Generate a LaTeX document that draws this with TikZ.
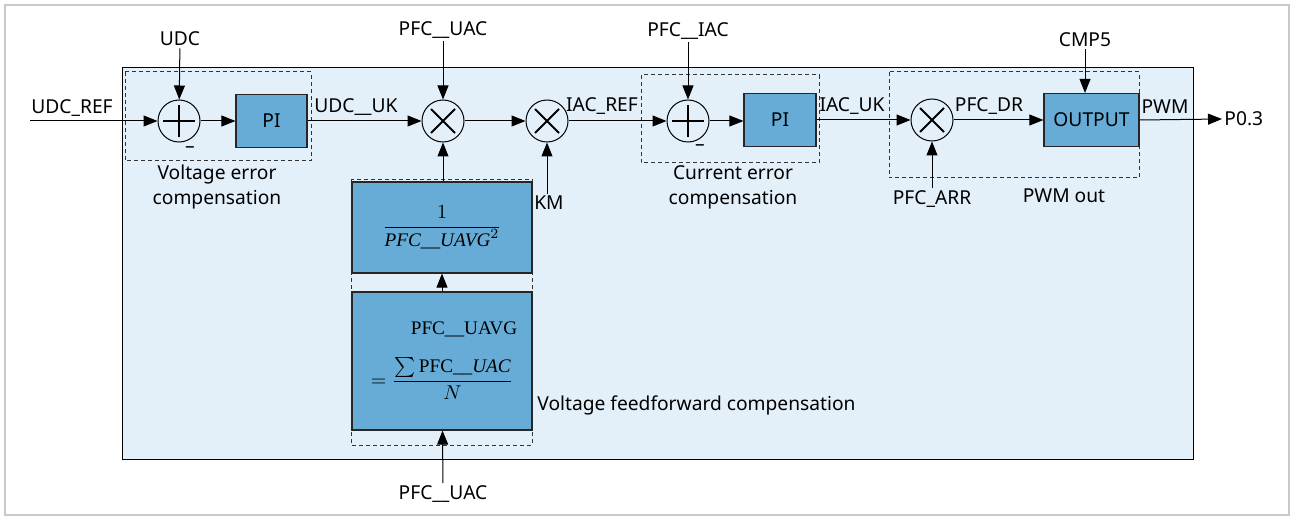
\documentclass[tikz,border=0pt]{standalone}
\usepackage{amsmath}
\usepackage{fontspec}
\setmainfont{Liberation Serif}
\setsansfont{Noto Sans}
\usetikzlibrary{arrows.meta,positioning}
\definecolor{framegray}{RGB}{200,200,200}
\definecolor{panelblue}{RGB}{228,240,249}
\definecolor{blockblue}{RGB}{102,172,214}

\begin{document}
\begin{tikzpicture}[x=0.5pt,y=-0.5pt,
font=\sffamily\fontsize{9.6}{12.5}\selectfont,
blk/.style={draw=black!85,line width=0.6pt,fill=blockblue,minimum width=#1,minimum height=26.5pt,inner sep=1pt},
sumnode/.style={circle,draw,line width=0.5pt,minimum size=21pt,inner sep=0pt,
  path picture={\draw[line width=1pt] ([xshift=-8pt]path picture bounding box.center)--([xshift=8pt]path picture bounding box.center)
  ([yshift=-8pt]path picture bounding box.center)--([yshift=8pt]path picture bounding box.center);}},
mulnode/.style={circle,draw,line width=0.5pt,minimum size=21pt,inner sep=0pt,
  path picture={\draw[line width=1pt] ([shift={(-6pt,-6pt)}]path picture bounding box.center)--([shift={(6pt,6pt)}]path picture bounding box.center)
  ([shift={(-6pt,6pt)}]path picture bounding box.center)--([shift={(6pt,-6pt)}]path picture bounding box.center);}},
sig/.style={-{Triangle[length=7pt,width=5.5pt]},line width=0.5pt},
grp/.style={draw=black!80,line width=0.5pt,dash pattern=on 2pt off 1.5pt},
lab/.style={inner sep=1pt},
captxt/.style={inner sep=1pt,align=center}]
\useasboundingbox (0,0) rectangle (1291,519);
\draw[framegray,line width=1pt] (5,5) rectangle (1289,515);
\draw[fill=panelblue,line width=0.5pt] (122,68) rectangle (1193,459);
% dashed groups
\draw[grp] (125,72) rectangle (311,161);
\draw[grp] (641,75) rectangle (819,163);
\draw[grp] (889,72) rectangle (1139,178);
\draw[grp] (351,180) rectangle (532,445);
% blocks
\node[sumnode] (sumv) at (179,121) {};
\node[blk=35.5pt] (piv) at (271.5,121) {PI};
\node[mulnode] (mula) at (443,121) {};
\node[mulnode] (mulb) at (547,121) {};
\node[sumnode] (sumi) at (688,121) {};
\node[blk=36pt] (pii) at (780,120) {PI};
\node[mulnode] (mulc) at (932,120) {};
\node[blk=47.5pt] (outbox) at (1091.5,120) {OUTPUT};
\node[blk=90pt,minimum height=45.5pt,font=\rmfamily\fontsize{9.6}{11}\selectfont] (invbox) at (442,227.5)
  {$\dfrac{1}{\textit{PFC\_\_UAVG}^{2}}$};
\node[blk=90pt,minimum height=69pt,font=\rmfamily\fontsize{9.6}{11}\selectfont,align=center] (avgbox) at (442,361)
  {\hspace*{22pt}PFC\_\_UAVG\\[9pt]$=\dfrac{\sum\textrm{PFC\_\_}\textit{UAC}}{N}$};
% inputs and outputs
\coordinate (udcrefin) at (30,121);
\node[lab] (udcref) at (72,108) {UDC\_REF};
\node[lab] (udc) at (180,39) {UDC};
\node[lab] (pfcuac) at (443,30) {PFC\_\_UAC};
\node[lab] (pfciac) at (688,31) {PFC\_\_IAC};
\node[lab] (cmp5) at (1085,40) {CMP5};
\node[lab] (km) at (549,203) {KM};
\node[lab] (pfcarr) at (932,199) {PFC\_ARR};
\node[lab] (pfcuacb) at (443,494) {PFC\_\_UAC};
\node[lab,anchor=west] (p03) at (1222,119) {P0.3};
% signal names
\node[lab] (udcuk) at (356,107) {UDC\_\_UK};
\node[lab] (iacref) at (602,106) {IAC\_REF};
\node[lab] (iacuk) at (852,106) {IAC\_UK};
\node[lab] (pfcdr) at (989,106) {PFC\_DR};
\node[lab] (pwm) at (1165,107) {PWM};
\node[lab] (minv) at (190,150) {\textendash};
\node[lab] (mini) at (700,148) {\textendash};
% captions
\node[captxt] (caperrv) at (217,187) {Voltage error\\compensation};
\node[captxt] (caperri) at (733,187) {Current error\\compensation};
\node[captxt] (cappwm) at (1064,196) {PWM out};
\node[captxt,anchor=west] (capff) at (535,405) {Voltage feedforward compensation};
% connectors
\draw[sig] (udcrefin) -- (sumv);
\draw[sig] (udc) -- (sumv);
\draw[sig] (sumv) -- (piv);
\draw[sig] (piv.east |- mula) -- (mula);
\draw[sig] (pfcuac) -- (mula);
\draw[sig] (mula) -- (mulb);
\draw[sig] (km.north -| mulb) -- (mulb);
\draw[sig] (invbox.north -| mula) -- (mula);
\draw[sig] (avgbox) -- (invbox);
\draw[sig] (pfcuacb) -- (avgbox);
\draw[sig] (mulb) -- (sumi);
\draw[sig] (pfciac) -- (sumi);
\draw[sig] (sumi.east) -- (pii.west |- sumi);
\draw[sig] (pii.east |- mulc) -- (mulc);
\draw[sig] (pfcarr) -- (mulc);
\draw[sig] (mulc) -- (outbox);
\draw[sig] (cmp5) -- (cmp5 |- outbox.north);
\draw[sig] (outbox.east) -- (p03.west);
\end{tikzpicture}
\end{document}
